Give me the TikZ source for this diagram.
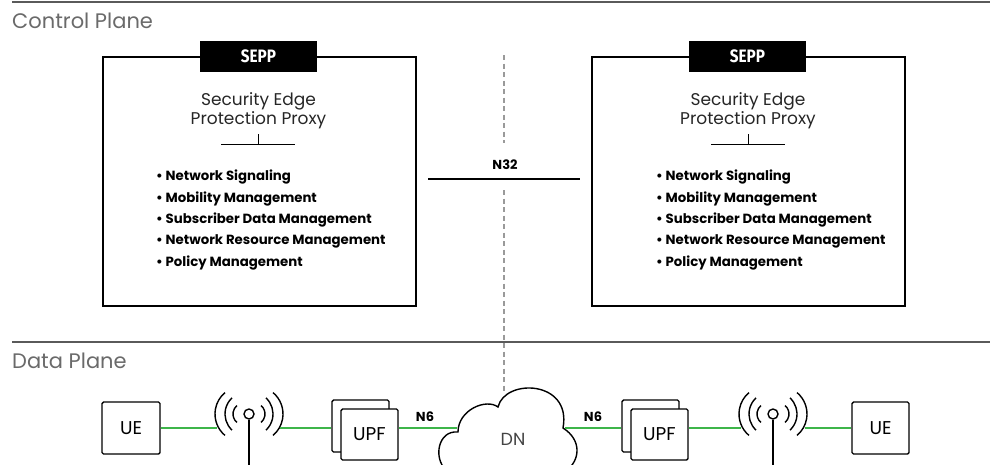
\documentclass[tikz,border=0pt]{standalone}
\usepackage{fontspec}
\setmainfont{Poppins}
\newfontfamily\condfont{Fira Sans}
\usepackage{graphicx}
\usetikzlibrary{calc}
\definecolor{sepgray}{HTML}{5A5A5A}
\definecolor{labelgray}{HTML}{6A6A6A}
\definecolor{dashgray}{HTML}{9A9A9A}
\definecolor{dngray}{HTML}{444444}
\definecolor{lgreen}{HTML}{3DB54A}
\tikzset{
  sepline/.style={draw=sepgray, line width=1.2pt},
  planelabel/.style={anchor=west, text=labelgray, inner sep=0pt, font=\fontsize{21}{23}\selectfont},
  seppbox/.style={draw=black, line width=1.5pt, minimum width=313pt, minimum height=249pt, anchor=north west, inner sep=0pt},
  tagbox/.style={fill=black, text=white, minimum width=117pt, minimum height=31pt, inner sep=0pt, font=\condfont\bfseries\fontsize{18}{18}\selectfont},
  titletext/.style={align=center, inner sep=0pt, text=black!85, font=\fontsize{17}{19}\selectfont},
  thinline/.style={draw=black, line width=1pt},
  bullet/.style={anchor=west, inner sep=0pt, font=\bfseries\fontsize{13.3}{15}\selectfont},
  iflabel/.style={inner sep=0pt, font=\bfseries\fontsize{13}{14}\selectfont},
  dashline/.style={draw=dashgray, line width=1.2pt, dash pattern=on 5pt off 3.5pt},
  devbox/.style={draw=black, line width=1.4pt, rounded corners=1.5pt, fill=white, inner sep=0pt, font=\fontsize{18.5}{18.5}\selectfont},
  greenline/.style={draw=lgreen, line width=1.4pt},
  antstroke/.style={draw=black, line width=1.4pt},
  antcircle/.style={circle, draw=black, line width=1.4pt, minimum size=10pt, inner sep=0pt},
}
\begin{document}
\begin{tikzpicture}[x=1pt,y=-1pt]
\useasboundingbox (0,0) rectangle (995,464);
\clip (0,0) rectangle (995,464);

% plane separators and labels
\coordinate (topL) at (12,2);
\coordinate (topR) at (990,2);
\draw[sepline] (topL) -- (topR);
\node[planelabel] (cplane) at (12,21) {Control Plane};
\coordinate (dpL) at (12,342);
\coordinate (dpR) at (990,342);
\draw[sepline] (dpL) -- (dpR);
\node[planelabel] (dplane) at (12,361) {Data Plane};

% dashed vertical line
\coordinate (dA) at (504,55);
\coordinate (dB) at (504,143);
\coordinate (dC) at (504,190);
\coordinate (dD) at (504,392);
\draw[dashline] (dA) -- (dB);
\draw[dashline] (dC) -- (dD);

% left SEPP
\node[seppbox] (boxL) at (102,56) {};
\node[tagbox] (tagL) at (258.5,56.5) {\scalebox{0.85}[1]{SEPP}};
\node[titletext] (titleL) at (258.5,111) {Security Edge\\Protection Proxy};
\coordinate (ulLa) at (221,144);
\coordinate (ulLb) at (295,144);
\coordinate (tkLa) at (258,134);
\coordinate (tkLb) at (258,144);
\draw[thinline] (ulLa) -- (ulLb);
\draw[thinline] (tkLa) -- (tkLb);
\node[bullet] (bL1) at (156,177) {• Network Signaling};
\node[bullet] (bL2) at (156,198.5) {• Mobility Management};
\node[bullet] (bL3) at (156,220) {• Subscriber Data Management};
\node[bullet] (bL4) at (156,241.5) {• Network Resource Management};
\node[bullet] (bL5) at (156,263) {• Policy Management};

% right SEPP
\node[seppbox] (boxR) at (591,56) {};
\node[tagbox] (tagR) at (747.5,56.5) {\scalebox{0.85}[1]{SEPP}};
\node[titletext] (titleR) at (748,111) {Security Edge\\Protection Proxy};
\coordinate (ulRa) at (711,144);
\coordinate (ulRb) at (785,144);
\coordinate (tkRa) at (748,134);
\coordinate (tkRb) at (748,144);
\draw[thinline] (ulRa) -- (ulRb);
\draw[thinline] (tkRa) -- (tkRb);
\node[bullet] (bR1) at (656,177) {• Network Signaling};
\node[bullet] (bR2) at (656,198.5) {• Mobility Management};
\node[bullet] (bR3) at (656,220) {• Subscriber Data Management};
\node[bullet] (bR4) at (656,241.5) {• Network Resource Management};
\node[bullet] (bR5) at (656,263) {• Policy Management};

% N32
\coordinate (n32a) at (428,179);
\coordinate (n32b) at (580,179);
\draw[thinline, line width=1.2pt] (n32a) -- (n32b);
\node[iflabel] (n32) at (505,165) {N32};

% ---- data plane ----
% cloud
\coordinate (cl0) at (446,470);
\coordinate (cl1) at (458,432);
\coordinate (cl2) at (498,407);
\coordinate (cl3) at (563,428);
\coordinate (cl4) at (567,470);
\draw[black, line width=1.4pt, fill=white]
  (cl0) .. controls (433,458) and (438,430) .. (cl1)
  .. controls (458,410) and (486,398) .. (cl2)
  .. controls (505,378) and (572,380) .. (cl3)
  .. controls (582,440) and (580,460) .. (cl4);
\node[inner sep=0pt, text=dngray, font=\fontsize{17.5}{17.5}\selectfont] (dn) at (513,439) {DN};

% left UE
\node[devbox, minimum width=58pt, minimum height=52pt] (ueL) at (131,428) {UE};
% left antenna
\coordinate (antL) at (249,414);
\coordinate (antLbot) at (249,470);
\node[antcircle] (antLc) at (antL) {};
\draw[antstroke] (antLc.south) -- (antLbot);
\foreach \d/\r/\a in {16/11/50,24/22/47,34/28/50}{
  \draw[antstroke] ($(antL)+(\r-\d,0)+(180-\a:\r)$) arc[start angle=180-\a, end angle=180+\a, radius=\r];
  \draw[antstroke] ($(antL)+(\d-\r,0)+(-\a:\r)$) arc[start angle=-\a, end angle=\a, radius=\r];
}
% left UPF
\node[devbox, minimum width=57pt, minimum height=52pt] (upfLb) at (360.5,426) {};
\node[devbox, minimum width=57pt, minimum height=51pt] (upfL) at (369.5,434.5) {UPF};

% right UPF
\node[devbox, minimum width=57pt, minimum height=52pt] (upfRb) at (650.5,426) {};
\node[devbox, minimum width=57pt, minimum height=51pt] (upfR) at (659.5,434.5) {UPF};
% right antenna
\coordinate (antR) at (773,414);
\coordinate (antRbot) at (773,470);
\node[antcircle] (antRc) at (antR) {};
\draw[antstroke] (antRc.south) -- (antRbot);
\foreach \d/\r/\a in {16/11/50,24/22/47,34/28/50}{
  \draw[antstroke] ($(antR)+(\r-\d,0)+(180-\a:\r)$) arc[start angle=180-\a, end angle=180+\a, radius=\r];
  \draw[antstroke] ($(antR)+(\d-\r,0)+(-\a:\r)$) arc[start angle=-\a, end angle=\a, radius=\r];
}
% right UE
\node[devbox, minimum width=57pt, minimum height=52pt] (ueR) at (880.5,428) {UE};

% green links
\coordinate (gL1) at (217,428);
\coordinate (gL2) at (280,428);
\coordinate (gR1) at (741,428);
\coordinate (gR2) at (805,428);
\coordinate (cloudW) at (457,428);
\coordinate (cloudE) at (565,428);
\draw[greenline] (ueL.east |- gL1) -- (gL1);
\draw[greenline] (gL2) -- (upfLb.west |- gL2);
\draw[greenline] (upfL.east |- cloudW) -- (cloudW);
\draw[greenline] (cloudE) -- (upfRb.west |- cloudE);
\draw[greenline] (upfR.east |- gR1) -- (gR1);
\draw[greenline] (gR2) -- (ueR.west |- gR2);
\node[iflabel] (n6L) at (425,417) {N6};
\node[iflabel] (n6R) at (593,417) {N6};
\end{tikzpicture}
\end{document}
